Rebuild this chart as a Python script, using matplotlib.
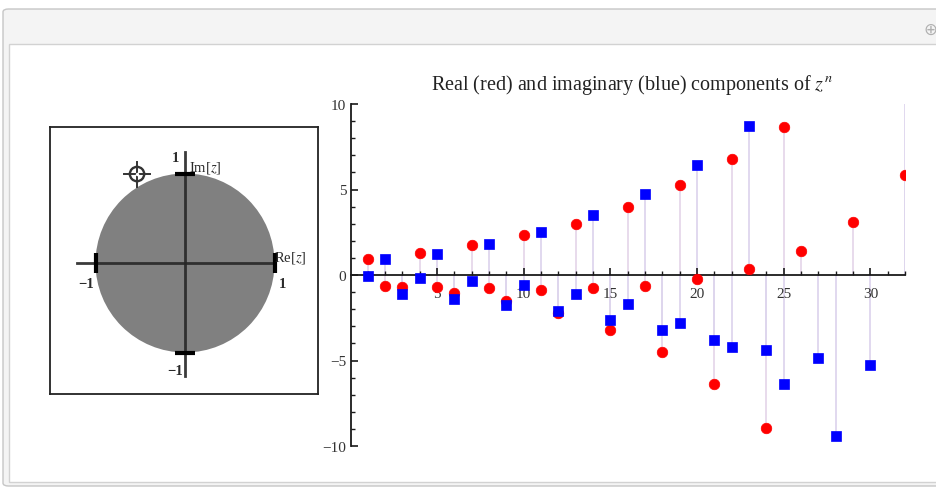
import numpy as np
import matplotlib
matplotlib.use("Agg")
import matplotlib.pyplot as plt
from matplotlib.patches import Rectangle, Circle, FancyBboxPatch

# Values
n_vals = np.arange(1, 33)
re_vals = [0.94, -0.63, -0.69, 1.27, -0.73, -1.06, 1.73, -0.76, -1.51, 2.31,
           -0.86, -2.24, 3.00, -0.76, -3.22, 3.98, -0.63, -4.49, 5.25, -0.24,
           -6.37, 6.76, 0.35, -8.92, 8.63, 1.43, np.nan, np.nan, 3.10, np.nan,
           np.nan, 5.84]
im_vals = [-0.04, 0.94, -1.12, -0.20, 1.24, -1.41, -0.33, 1.82, -1.75, -0.59,
           2.51, -2.10, -1.12, 3.49, -2.63, -1.71, 4.76, -3.22, -2.78, 6.43,
           -3.80, -4.20, 8.73, -4.39, -6.37, np.nan, -4.88, -9.41, np.nan, -5.29,
           np.nan, 11.0]
x_ticks = [5, 10, 15, 20, 25, 30]
y_ticks = [-10, -5, 0, 5, 10]
locator_z = (-0.536, 0.994)
disk_radius = 1.0

plt.rcParams['font.family'] = ['Liberation Serif', 'DejaVu Serif']
plt.rcParams['mathtext.fontset'] = 'stix'

W, H = 936, 489
def fx(x):
    return x / W
def fy(y):
    return 1 - y / H

fig = plt.figure(figsize=(W / 100, H / 100), dpi=100)
fig.patch.set_facecolor('white')

#--------------------------------------------
# Window frame (drawn behind the axes)
fig.patches.append(FancyBboxPatch((fx(3), fy(487)), fx(945) - fx(3), fy(10) - fy(487),
                                  boxstyle="round,pad=0,rounding_size=0.006",
                                  transform=fig.transFigure, fc='#f4f4f4', ec='#c6c6c6',
                                  lw=1, zorder=-2))
fig.patches.append(Rectangle((fx(9), fy(483)), fx(945) - fx(9), fy(45) - fy(483),
                             transform=fig.transFigure, fc='white', ec='#d2d2d2',
                             lw=1, zorder=-1))
fig.text(fx(930), fy(30), '\u2295', color='#b0b0b0', fontsize=12,
         ha='center', va='center', family='DejaVu Sans')

#--------------------------------------------
# Left panel: complex plane
cx, cy, r_px = 185, 264, 89.5
axL = fig.add_axes([fx(50), fy(395), fx(318) - fx(50), fy(128) - fy(395)])
axL.set_xlim(-(cx - 50) / r_px, (318 - cx) / r_px)
axL.set_ylim(-(395 - cy) / r_px, (cy - 128) / r_px)
axL.set_xticks([])
axL.set_yticks([])
for s in axL.spines.values():
    s.set_linewidth(1.3)
    s.set_color('#222222')
axL.add_patch(Circle((0, 0), disk_radius, fc='#808080', ec='none'))
axL.plot([-1.21, 1.0], [0, 0], color='#262626', lw=2, alpha=0.9)
axL.plot([0, 0], [-1.26, 1.24], color='#262626', lw=2, alpha=0.9)
for v in (-1, 1):
    axL.plot([v, v], [-0.11, 0.11], color='black', lw=3, solid_capstyle='butt')
    axL.plot([-0.11, 0.11], [v, v], color='black', lw=3, solid_capstyle='butt')
lab = dict(fontsize=10.5, color='#2a2a2a', va='center')
axL.text(-0.11, 1.18, '1', ha='center', fontweight='bold', **lab)
axL.text(0.05, 1.07, 'Im[$z$]', ha='left', **lab)
axL.text(0.99, 0.07, 'Re[$z$]', ha='left', **lab)
axL.text(1.09, -0.23, '1', ha='center', fontweight='bold', **lab)
axL.text(-1.1, -0.23, '\u22121', ha='center', fontweight='bold', **lab)
axL.text(-0.11, -1.2, '\u22121', ha='center', fontweight='bold', **lab)
# Locator
lx, ly = locator_z
axL.add_patch(Circle((lx, ly), 0.08, fc='none', ec='#333333', lw=1.7))
axL.plot([lx - 0.14, lx + 0.14], [ly, ly], color='#333333', lw=1.4)
axL.plot([lx, lx], [ly - 0.14, ly + 0.14], color='#333333', lw=1.4)
axL.plot([lx], [ly], 'o', ms=2.5, color='white', mec='none')

#--------------------------------------------
# Right panel: components of z^n
axR = fig.add_axes([fx(350.5), fy(447), fx(905) - fx(350.5), fy(105) - fy(447)])
axR.set_xlim(0, 32)
axR.set_ylim(-10, 10)
axR.patch.set_alpha(0)
axR.spines['top'].set_visible(False)
axR.spines['right'].set_visible(False)
axR.spines['bottom'].set_position(('data', 0))
for s in ('left', 'bottom'):
    axR.spines[s].set_linewidth(1.3)
    axR.spines[s].set_color('#1a1a1a')

re_arr = np.array(re_vals)
im_arr = np.array(im_vals)
ok_re = ~np.isnan(re_arr)
ok_im = ~np.isnan(im_arr)
axR.vlines(n_vals[ok_re], 0, re_arr[ok_re], color='#e6d8ea', lw=1.3, zorder=1)
axR.vlines(n_vals[ok_im], 0, im_arr[ok_im], color='#ded6ee', lw=1.3, zorder=1)
axR.plot(n_vals, re_arr, 'o', color='#ff0000', ms=7.6, mec='#ff0000', mew=0.5, zorder=3)
axR.plot(n_vals, im_arr, 's', color='#0000ff', ms=6.6, mec='#0000ff', mew=0.5, zorder=4)

axR.set_xticks(x_ticks)
axR.set_xticks(np.arange(1, 33), minor=True)
axR.set_yticks(y_ticks)
axR.set_yticks(np.arange(-10, 11), minor=True)
axR.set_yticklabels([('\u2212%d' % -v) if v < 0 else '%d' % v for v in y_ticks])
axR.tick_params(axis='both', which='major', direction='in', length=5, width=1.2,
                labelsize=11, colors='#1a1a1a', labelcolor='#333333')
axR.tick_params(axis='both', which='minor', direction='in', length=3, width=1.0,
                colors='#1a1a1a')
axR.tick_params(axis='x', which='major', pad=9)
axR.tick_params(axis='y', which='major', pad=3)

fig.text(fx(632), fy(85), 'Real (red) and imaginary (blue) components of $z^n$',
         ha='center', va='center', fontsize=14.5, color='#222222')

fig.savefig('out.png', dpi=100)
